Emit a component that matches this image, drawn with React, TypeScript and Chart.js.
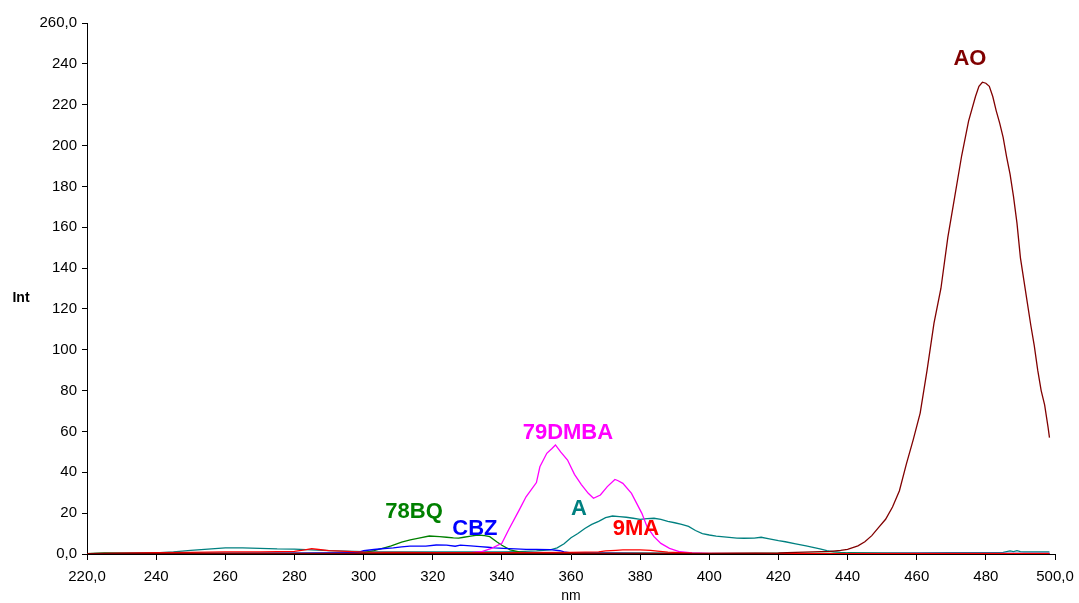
import React, { useEffect, useRef } from "react";
import { Chart, registerables } from "chart.js";
Chart.register(...registerables);

// ---- data (nm, Int) ----
const AO_NM = [220, 240, 260, 280, 300, 320, 340, 360, 380, 400, 420, 425, 430, 435, 438, 440, 443, 445, 447, 449, 451, 453, 455, 457, 459, 461, 463, 465, 467, 469, 471, 473, 475, 477, 478, 479, 480, 481, 482, 483, 484, 485, 486, 487, 488, 489, 490, 491, 492, 493, 494, 495, 496, 497, 498, 498.4];
const AO_INT = [0.2, 0.3, 0.3, 0.3, 0.3, 0.3, 0.3, 0.3, 0.3, 0.2, 0.5, 0.8, 1, 1.3, 1.8, 2.3, 4, 6, 9, 13, 17, 23, 31, 44, 56, 69, 90, 113, 130, 155, 175, 195, 212, 224, 229, 231, 230.5, 229, 224, 217, 211, 204, 194.5, 186, 175, 162, 145, 134, 123, 112, 102, 90, 80, 73, 62, 57];

const DMBA_NM = [220, 240, 260, 280, 300, 320, 330, 334, 337, 340, 342, 345, 347, 350, 351, 353, 354.5, 355.5, 357, 359, 361, 363, 365, 366.5, 368.5, 370.5, 372.7, 373.5, 375, 377.5, 379, 380.5, 382, 384, 386, 388.5, 391.5, 395, 400, 420, 440, 460, 480, 498.4];
const DMBA_INT = [0.1, 0.2, 0.2, 0.2, 0.2, 0.3, 0.6, 1.1, 2.8, 5.2, 12, 21.5, 28, 35, 42.7, 49.3, 51.7, 53.4, 50, 46, 39, 34, 29.7, 27.3, 28.9, 33, 36.5, 36, 34.6, 29.7, 24.8, 19.9, 13.4, 8.5, 5.2, 2.8, 1.1, 0.5, 0.3, 0.2, 0.2, 0.3, 0.3, 0.3];

const A_NM = [220, 230, 240, 245, 250, 255, 260, 265, 270, 275, 280, 285, 290, 295, 300, 310, 320, 330, 340, 345, 350, 354, 356, 358, 360, 362, 364, 366, 368, 370, 372, 374, 376, 378, 380, 382, 384, 386, 388, 390, 392, 394, 396, 398, 400, 402, 405, 408, 410, 413, 415, 417, 420, 422, 425, 428, 430, 432, 434, 436, 438, 440, 450, 460, 470, 480, 485, 487, 488, 489, 490, 491, 495, 498.4];
const A_INT = [0.2, 0.3, 0.6, 1, 1.8, 2.4, 3, 3, 2.8, 2.5, 2.4, 2, 1.7, 1.4, 1.1, 1, 1, 1, 1, 1.2, 1.5, 2, 3, 5, 8, 10, 12.5, 14.5, 16, 17.8, 18.6, 18.3, 18, 17.5, 17, 17.3, 17.5, 17, 16, 15.3, 14.5, 13.5, 11.5, 10, 9.3, 8.8, 8.3, 7.8, 7.7, 7.8, 8.2, 7.5, 6.5, 6, 5, 4, 3.3, 2.5, 1.6, 1.1, 0.8, 0.6, 0.5, 0.5, 0.6, 0.7, 0.8, 1.5, 1.2, 1.6, 1.2, 1, 1, 1];

const BQ_NM = [220, 225, 240, 260, 280, 295, 300, 303, 306, 308, 311, 313.5, 316, 319, 322, 324, 326, 327.5, 329, 331, 333, 335, 336.5, 338.5, 340, 342.4, 345, 348, 360, 380, 400, 440, 480, 498.4];
const BQ_INT = [0.2, 0.5, 0.3, 0.3, 0.3, 0.4, 0.7, 1.6, 3, 4, 5.8, 6.9, 7.8, 8.8, 8.5, 8.2, 7.9, 7.8, 8.2, 8.8, 9.3, 9, 8.5, 6, 4.3, 2, 1, 0.5, 0.4, 0.4, 0.3, 0.3, 0.3, 0.3];

const CBZ_NM = [220, 240, 260, 280, 298, 300, 303, 306, 308.6, 311, 313.4, 316, 318, 321, 324, 326.5, 328, 331, 333.7, 336, 338, 340.4, 344, 347, 350, 354, 356.8, 358, 360, 380, 400, 440, 480, 498.4];
const CBZ_INT = [0.2, 0.3, 0.3, 0.4, 0.6, 1.6, 2.2, 2.7, 3, 3.5, 3.9, 3.9, 3.9, 4.4, 4.3, 3.8, 4.3, 4, 3.6, 3.3, 3, 2.8, 2.5, 2.3, 2.3, 2.1, 1.6, 1.0, 0.5, 0.3, 0.2, 0.2, 0.2, 0.2];

const MA_NM = [220, 230, 240, 250, 260, 270, 280, 283, 285, 287, 290, 295, 300, 320, 340, 360, 368, 370, 373, 375, 380, 383, 385, 388, 395, 420, 460, 498.4];
const MA_INT = [0.2, 0.4, 0.6, 0.8, 1, 1, 1.3, 2, 2.6, 2.2, 1.7, 1.3, 0.9, 0.6, 0.6, 0.8, 1, 1.5, 1.8, 2, 2, 1.8, 1.4, 0.9, 0.4, 0.2, 0.2, 0.2];

// ---- series labels (text, anchor nm, anchor Int) ----
const LABEL_TEXT = ["AO", "79DMBA", "A", "78BQ", "CBZ", "9MA"];
const LABEL_NM = [475.4, 359.1, 362.3, 314.6, 332.2, 378.8];
const LABEL_INT = [242.5, 59.2, 22, 20.6, 12.2, 12.2];
const LABEL_COLOR = ["#800000", "#FF00FF", "#008080", "#008000", "#0000FF", "#FF0000"];

// ---- axes ----
const X_MIN = 220;
const X_MAX = 500;
const X_STEP = 20;
const Y_MIN = 0;
const Y_MAX = 260;
const Y_STEP = 20;
const X_TITLE = "nm";
const Y_TITLE = "Int";

const FONT = "'Liberation Sans', Arial, Helvetica, sans-serif";

function pts(xs: number[], ys: number[]) {
  return xs.map((x, i) => ({ x, y: ys[i] }));
}

const labelsPlugin = {
  id: "seriesLabels",
  afterDraw(chart: any) {
    const { ctx, scales, chartArea } = chart;
    const xs = scales.x;
    const ys = scales.y;
    ctx.save();
    ctx.font = `bold 22px ${FONT}`;
    ctx.textAlign = "center";
    ctx.textBaseline = "middle";
    LABEL_TEXT.forEach((t, i) => {
      ctx.fillStyle = LABEL_COLOR[i];
      ctx.fillText(t, xs.getPixelForValue(LABEL_NM[i]), ys.getPixelForValue(LABEL_INT[i]));
    });
    ctx.fillStyle = "#000";
    ctx.font = `bold 14px ${FONT}`;
    ctx.fillText(Y_TITLE, 21, 298);
    ctx.font = `14px ${FONT}`;
    ctx.fillText(X_TITLE, (chartArea.left + chartArea.right) / 2, 596);
    ctx.restore();
  },
};

const bgPlugin = {
  id: "bg",
  beforeDraw(chart: any) {
    const { ctx, width, height } = chart;
    ctx.save();
    ctx.fillStyle = "#fff";
    ctx.fillRect(0, 0, width, height);
    ctx.restore();
  },
};

export default function App() {
  const ref = useRef<HTMLCanvasElement | null>(null);
  useEffect(() => {
    document.body.style.margin = "0";
    if (!ref.current) return;
    const mk = (label: string, xs: number[], ys: number[], color: string) => ({
      label,
      data: pts(xs, ys),
      borderColor: color,
      backgroundColor: color,
      borderWidth: 1.3,
      pointRadius: 0,
      tension: 0,
      fill: false,
    });
    const chart = new Chart(ref.current, {
      type: "line",
      data: {
        datasets: [
          mk("AO", AO_NM, AO_INT, "#800000"),
          mk("9MA", MA_NM, MA_INT, "#FF0000"),
          mk("79DMBA", DMBA_NM, DMBA_INT, "#FF00FF"),
          mk("CBZ", CBZ_NM, CBZ_INT, "#0000FF"),
          mk("78BQ", BQ_NM, BQ_INT, "#008000"),
          mk("A", A_NM, A_INT, "#008080"),
        ],
      },
      options: {
        animation: false,
        responsive: false,
        devicePixelRatio: 1,
        layout: { padding: { left: 0, right: 24, top: 23, bottom: 0 } },
        plugins: { legend: { display: false }, tooltip: { enabled: false } },
        scales: {
          x: {
            type: "linear",
            min: X_MIN,
            max: X_MAX,
            border: { display: true, color: "#000", width: 1 },
            grid: { display: true, drawOnChartArea: false, drawTicks: true, tickLength: 6, color: "#000", tickColor: "#000" },
            ticks: {
              stepSize: X_STEP,
              autoSkip: false,
              maxRotation: 0,
              padding: 8,
              color: "#000",
              font: { family: FONT, size: 15 },
              callback: (v: any) => (v === X_MIN || v === X_MAX ? `${v},0` : `${v}`),
            },
            afterFit: (s: any) => { s.height = 49; s.paddingLeft = 0; s.paddingRight = 0; },
          },
          y: {
            type: "linear",
            min: Y_MIN,
            max: Y_MAX,
            border: { display: true, color: "#000", width: 1 },
            grid: { display: true, drawOnChartArea: false, drawTicks: true, tickLength: 5, color: "#000", tickColor: "#000" },
            ticks: {
              stepSize: Y_STEP,
              autoSkip: false,
              padding: 5,
              color: "#000",
              font: { family: FONT, size: 15 },
              callback: (v: any) => (v === Y_MIN || v === Y_MAX ? `${v},0` : `${v}`),
            },
            afterFit: (s: any) => { s.width = 87; s.paddingTop = 0; s.paddingBottom = 0; },
          },
        },
      },
      plugins: [bgPlugin, labelsPlugin],
    } as any);
    return () => chart.destroy();
  }, []);
  return (
    <div style={{ width: 1079, height: 603 }}>
      <canvas ref={ref} width={1079} height={603} style={{ display: "block" }} />
    </div>
  );
}
